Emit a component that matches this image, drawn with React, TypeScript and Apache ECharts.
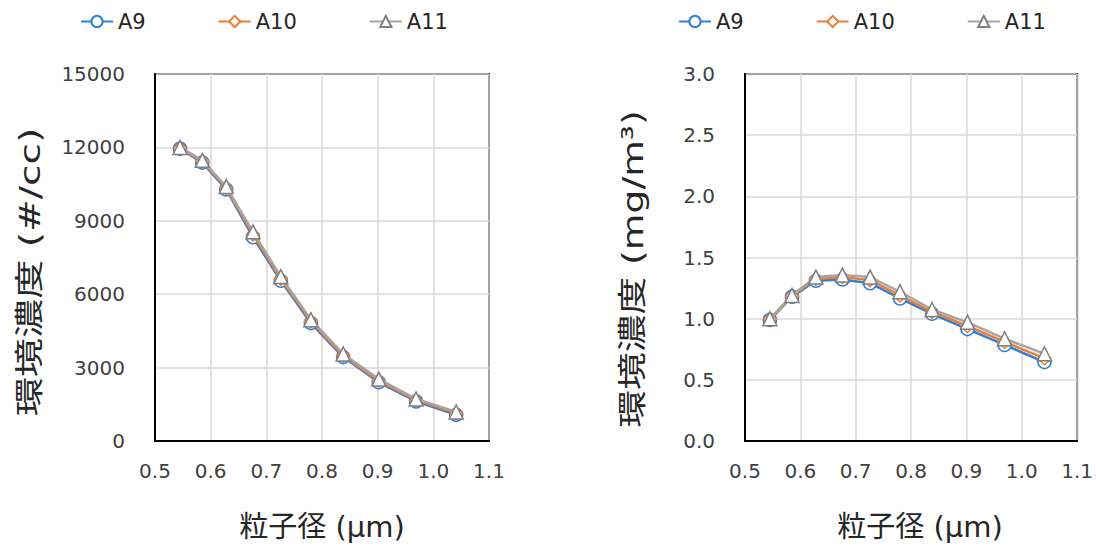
import React, { useEffect, useRef } from "react";
import * as echarts from "echarts";

const sizes = [0.545, 0.585, 0.628, 0.676, 0.726, 0.78, 0.838, 0.902, 0.969, 1.041];

const countA9 = [11950, 11380, 10280, 8330, 6550, 4820, 3430, 2400, 1620, 1070];
const countA10 = [11980, 11420, 10340, 8440, 6630, 4890, 3490, 2460, 1670, 1130];
const countA11 = [12000, 11470, 10400, 8550, 6720, 4960, 3560, 2530, 1720, 1190];

const massA9 = [0.99, 1.18, 1.31, 1.32, 1.29, 1.165, 1.04, 0.915, 0.785, 0.645];
const massA10 = [0.995, 1.185, 1.325, 1.34, 1.315, 1.19, 1.055, 0.94, 0.81, 0.675];
const massA11 = [1.0, 1.19, 1.34, 1.356, 1.34, 1.22, 1.075, 0.97, 0.836, 0.713];

const seriesNames = ["A9", "A10", "A11"];
const xLabel = "粒子径 (μm)";
const yLabelLeft = "環境濃度 (#/cc)";
const yLabelRight = "環境濃度 (mg/m³)";

const FONT = "DejaVu Sans, Noto Sans CJK JP, sans-serif";
const colors = ["#2F7FD8", "#ED7D31", "#A5A5A5"];
const symbols = ["circle", "diamond", "triangle"];
const symbolBorders = ["#2F7FD8", "#ED7D31", "#7f7f7f"];
const symbolSizes = [13, 13, 14];

function zip(xs: number[], ys: number[]) {
  return xs.map((x, i) => [x, ys[i]]);
}

export default function App() {
  const ref = useRef<HTMLDivElement>(null);
  useEffect(() => {
    if (!ref.current) return;
    const chart = echarts.init(ref.current, null, { renderer: "svg" });
    const mkSeries = (idx: number, datasets: number[][]) =>
      datasets.map((d, i) => ({
        name: seriesNames[i],
        type: "line",
        xAxisIndex: idx,
        yAxisIndex: idx,
        data: zip(sizes, d),
        symbol: symbols[i],
        symbolSize: symbolSizes[i],
        lineStyle: { color: colors[i], width: 2.5 },
        itemStyle: { color: "#ffffff", borderColor: symbolBorders[i], borderWidth: 1.5 },
        z: 2 + i,
      }));
    const xAxisBase = (gi: number, pad: number) => ({
      type: "value",
      gridIndex: gi,
      min: 0.5,
      max: 1.1,
      interval: 0.1,
      axisLine: { show: true, onZero: false, lineStyle: { color: "#000", width: 2 } },
      axisTick: { show: false },
      splitLine: { show: true, lineStyle: { color: "#d9d9d9", width: 1.5 } },
      axisLabel: {
        margin: 20,
        fontSize: 20,
        color: "#404040",
        fontFamily: FONT,
        formatter: (v: number) => v.toFixed(1),
      },
      name: xLabel,
      nameLocation: "middle",
      nameGap: 71,
      nameTextStyle: { fontSize: 29, color: "#262626", fontFamily: FONT, padding: [0, 0, 0, pad] },
    });
    const yAxisBase = (gi: number, max: number, interval: number, fmt: (v: number) => string) => ({
      type: "value",
      gridIndex: gi,
      min: 0,
      max,
      interval,
      axisLine: { show: true, lineStyle: { color: "#000", width: 2 } },
      axisTick: { show: false },
      splitLine: { show: true, lineStyle: { color: "#d9d9d9", width: 1.5 } },
      axisLabel: { margin: 30, fontSize: 20, color: "#404040", fontFamily: FONT, formatter: fmt },
    });
    const legendBase = (left: number) => ({
      left,
      top: 6,
      itemWidth: 32,
      itemHeight: 14,
      itemGap: 72,
      data: seriesNames,
      textStyle: { fontSize: 21, color: "#262626", fontFamily: FONT },
    });
    const yTitle = (text: string, x: number, y: number, sx: number) => ({
      type: "text",
      x,
      y,
      rotation: Math.PI / 2,
      scaleX: sx,
      style: {
        text,
        fontSize: 29,
        fontFamily: FONT,
        fill: "#262626",
        align: "center",
        verticalAlign: "middle",
      },
    });
    chart.setOption({
      animation: false,
      legend: [legendBase(75), legendBase(673)],
      grid: [
        { left: 155, top: 74, width: 334, height: 367, show: true, borderColor: "#000", borderWidth: 2, containLabel: false },
        { left: 745, top: 74, width: 333, height: 367, show: true, borderColor: "#000", borderWidth: 2, containLabel: false },
      ],
      xAxis: [xAxisBase(0, 0), xAxisBase(1, 18)],
      yAxis: [
        yAxisBase(0, 15000, 3000, (v: number) => String(v)),
        yAxisBase(1, 3, 0.5, (v: number) => v.toFixed(1)),
      ],
      graphic: [yTitle(yLabelLeft, 30, 272, 1.35), yTitle(yLabelRight, 633, 269, 1.3)],
      series: [
        ...mkSeries(0, [countA9, countA10, countA11]),
        ...mkSeries(1, [massA9, massA10, massA11]),
      ],
    });
    return () => chart.dispose();
  }, []);
  return (
    <div
      ref={ref}
      style={{ position: "fixed", left: 0, top: 0, width: 1096, height: 546, background: "#fff" }}
    />
  );
}
